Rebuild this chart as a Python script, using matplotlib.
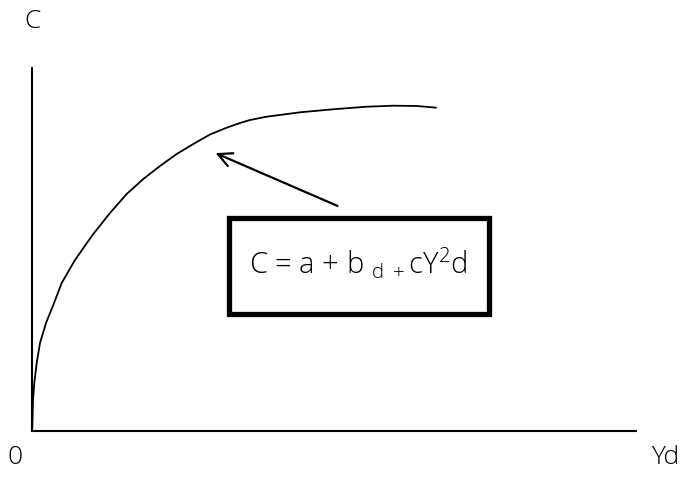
import matplotlib
matplotlib.use("Agg")
import matplotlib.pyplot as plt
from matplotlib.patches import Rectangle

# Curve (axis units: origin at bottom-left)
curve_x = [0, 0.3, 1, 2.3, 4.7, 8, 14, 20.5, 29.7, 43, 56.3, 61.3, 78, 94.7, 111.3, 128,
           144.7, 161.3, 178, 194.7, 208, 218, 234.7, 268, 301, 334.7, 361.3, 384.7, 404.7]
curve_y = [0, 4, 31, 48, 68, 88, 108, 124, 148, 171, 190, 197, 218, 237, 252, 265,
           277, 287, 296.5, 303.3, 308, 311, 314.3, 318.7, 321.7, 324.3, 325.3, 325, 323.3]

x_max = 604
y_max = 363
equation = r"C = a + b $_{\mathrm{d\ +}}$cY$^{2}$d"
box_xy = (196.5, 117.5)
box_w, box_h = 260, 96
arrow_tail = (308, 224)
arrow_head = (181, 279)

plt.rcParams['font.family'] = ['Open Sans', 'DejaVu Sans']
plt.rcParams['mathtext.fontset'] = 'custom'
plt.rcParams['mathtext.rm'] = 'Open Sans:light'
plt.rcParams['mathtext.it'] = 'Open Sans:light'

fig = plt.figure(figsize=(6.83, 4.78), dpi=100)
ax = fig.add_axes([32/683, 47/478, 604/683, 363/478])
ax.set_xlim(0, x_max)
ax.set_ylim(0, y_max)
for s in ['top', 'right']:
    ax.spines[s].set_visible(False)
for s in ['left', 'bottom']:
    ax.spines[s].set_linewidth(1.5)
ax.set_xticks([])
ax.set_yticks([])

ax.plot(curve_x, curve_y, color='black', lw=1.3, solid_capstyle='butt', solid_joinstyle='round')

ax.add_patch(Rectangle(box_xy, box_w, box_h, fill=False, ec='black', lw=3.8))
ax.text(box_xy[0] + box_w / 2, box_xy[1] + box_h / 2 + 2, equation,
        ha='center', va='center', fontsize=21, fontweight='light')

ax.annotate('', xy=arrow_head, xytext=arrow_tail,
            arrowprops=dict(arrowstyle='->,head_length=1.0,head_width=0.5', lw=1.6, color='black'))

fig.text(33/683, 1 - 22/478, 'C', ha='center', va='center', fontsize=19, fontweight='light')
fig.text(15/683, 1 - 457/478, '0', ha='center', va='center', fontsize=19, fontweight='light')
fig.text(665/683, 1 - 457/478, 'Yd', ha='center', va='center', fontsize=19, fontweight='light')

fig.savefig('out.png', dpi=100)
